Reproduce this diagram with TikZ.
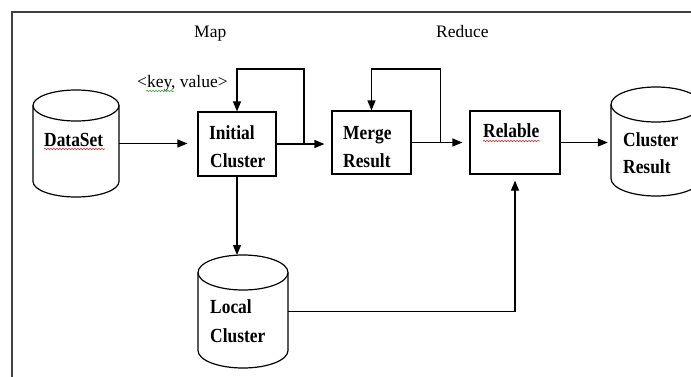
\documentclass[tikz,border=0pt]{standalone}
\usepackage{fontspec}
\setmainfont{Liberation Serif}
\usetikzlibrary{arrows.meta,decorations.pathmorphing,calc}
\newcommand\vstretch[1]{\scalebox{1}[1.15]{#1}}
\definecolor{spellred}{RGB}{220,40,40}
\definecolor{spellgreen}{RGB}{60,160,60}
\begin{document}
\begin{tikzpicture}[x=1pt,y=-1pt,
  line/.style={line width=1.2pt, draw=black},
  arr/.style={line, -{Triangle[length=10pt,width=8pt]}},
  box/.style={draw, line width=1.2pt, inner sep=0pt},
  hold/.style={inner sep=0pt},
  lbl/.style={font=\fontsize{17.5}{28}\selectfont, inner sep=0pt, anchor=base west},
  blbl/.style={font=\fontsize{17.4}{28}\selectfont\bfseries, inner sep=0pt, anchor=base west},
  wavy/.style={decorate, decoration={snake, amplitude=0.7pt, segment length=3pt}, line width=0.6pt}]
\useasboundingbox (0,0) rectangle (691,376);
\clip (0,0) rectangle (691,376);
\fill[white] (0,0) rectangle (691,376);
% frame
\draw[line width=1.5pt, draw=black!75] (12,380) -- (12,12) -- (700,12);

% headings
\node[lbl] (map) at (194,37) {Map};
\node[lbl] (reduce) at (436,37) {Reduce};
\node[lbl] (kv) at (137,87) {<key, value>};
\draw[wavy, spellgreen] (146,91) -- (174,91);

% boxes
\node[box, minimum width=78pt, minimum height=64pt] (ic) at (237,144) {};
\node[box, minimum width=79pt, minimum height=63pt] (mr) at (371.5,142.5) {};
\node[box, minimum width=90pt, minimum height=63pt] (rl) at (515,142.5) {};

% cylinders (holder nodes span the body)
\node[hold, minimum width=86pt, minimum height=76pt] (ds) at (76,143.5) {};
\draw[line] (33,105.5) -- (33,181.5) arc[start angle=180, end angle=360, x radius=43pt, y radius=15.5pt] -- (119,105.5);
\draw[line] (76,105.5) ellipse[x radius=43pt, y radius=15.5pt];

\node[hold, minimum width=90pt, minimum height=78pt] (lc) at (243,311.5) {};
\coordinate (lctop) at (243,255);
\draw[line] (198,272.5) -- (198,350.5) arc[start angle=180, end angle=360, x radius=45pt, y radius=17.5pt] -- (288,272.5);
\draw[line] (243,272.5) ellipse[x radius=45pt, y radius=17.5pt];

\node[hold, minimum width=90pt, minimum height=74pt] (cr) at (656,141.5) {};
\draw[line] (611,104.5) -- (611,178.5) arc[start angle=180, end angle=360, x radius=45pt, y radius=17.5pt] -- (701,104.5);
\draw[line] (656,104.5) ellipse[x radius=45pt, y radius=17.5pt];

% texts
\node[blbl] (t1) at (44,146) {\vstretch{DataSet}};
\draw[wavy, spellred] (44,149) -- (105,149);
\node[blbl] (t2) at (209,139) {\vstretch{Initial}};
\node[blbl] (t3) at (210,167) {\vstretch{Cluster}};
\node[blbl] (t4) at (343,139) {\vstretch{Merge}};
\node[blbl] (t5) at (343,167) {\vstretch{Result}};
\node[blbl] (t6) at (483,137) {\vstretch{Relable}};
\draw[wavy, spellred] (483,141) -- (540,141);
\node[blbl] (t7) at (623,146) {\vstretch{Cluster}};
\node[blbl] (t8) at (623,173) {\vstretch{Result}};
\node[blbl] (t9) at (210,313) {\vstretch{Local}};
\node[blbl] (t10) at (210,342) {\vstretch{Cluster}};

% connectors
\draw[arr, shorten >=10pt] (ds.east) -- (ds.east -| ic.west);
\coordinate (j1) at ($(ic.east)!0.5!(ic.east -| mr.west)$);
\draw[arr, shorten >=7pt] (ic.east) -- (ic.east -| mr.west);
\draw[arr] (j1) -- (j1 |- 0,69) -| (ic.north);
\coordinate (j2) at ($(mr.east)!0.5!(mr.east -| rl.west)$);
\draw[arr, shorten >=7pt] (mr.east) -- (mr.east -| rl.west);
\draw[arr] (j2) -- (j2 |- 0,69) -| (mr.north);
\draw[arr, shorten >=3pt] (rl.east) -- (rl.east -| cr.west);
\draw[arr] (ic.south) -- (ic.south |- lctop);
\draw[arr, shorten >=6pt] (lc.east) -| (rl.south);
\end{tikzpicture}
\end{document}
